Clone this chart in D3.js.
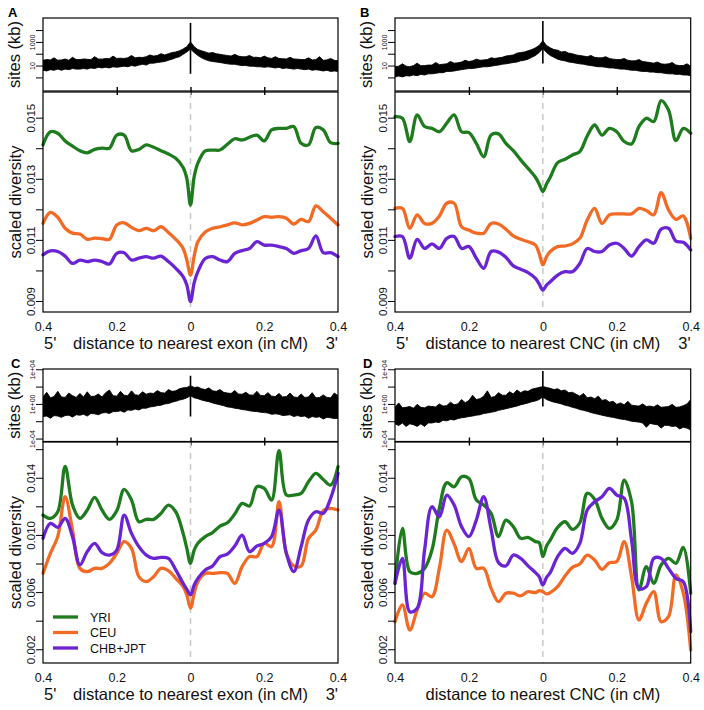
<!DOCTYPE html>
<html>
<head>
<meta charset="utf-8">
<script src="https://cdn.jsdelivr.net/npm/d3@7"></script>
<style>
html,body{margin:0;padding:0;background:#fff;}
svg{display:block;font-family:"Liberation Sans",Arial,Helvetica,sans-serif;}
</style>
</head>
<body>
<svg id="chart" width="704" height="710"></svg>
<script>
// ---------------- DATA ----------------
const divX = [-0.40,-0.38,-0.36,-0.34,-0.32,-0.30,-0.28,-0.26,-0.24,-0.22,-0.20,-0.18,-0.16,-0.14,-0.12,-0.10,-0.08,-0.06,-0.04,-0.02,-0.01,0,0.01,0.02,0.04,0.06,0.08,0.10,0.12,0.14,0.16,0.18,0.20,0.22,0.24,0.26,0.28,0.30,0.32,0.34,0.36,0.38,0.40];

const aYRI = [0.01411,0.01454,0.01449,0.01424,0.01407,0.01392,0.01385,0.01396,0.01400,0.01400,0.01443,0.01443,0.01392,0.01396,0.01411,0.01403,0.01392,0.01381,0.01367,0.01337,0.01301,0.01214,0.01307,0.01351,0.01391,0.01394,0.01394,0.01413,0.01431,0.01427,0.01436,0.01443,0.01424,0.01460,0.01465,0.01465,0.01471,0.01416,0.01411,0.01468,0.01460,0.01418,0.01416];
const aCEU = [0.01154,0.01190,0.01174,0.01138,0.01122,0.01119,0.01102,0.01106,0.01104,0.01102,0.01149,0.01156,0.01141,0.01130,0.01138,0.01130,0.01143,0.01124,0.01102,0.01072,0.01034,0.00985,0.01047,0.01094,0.01126,0.01138,0.01143,0.01149,0.01156,0.01149,0.01154,0.01165,0.01176,0.01174,0.01176,0.01171,0.01152,0.01167,0.01160,0.01211,0.01192,0.01171,0.01149];
const aCHB = [0.01051,0.01064,0.01062,0.01047,0.01023,0.01034,0.01029,0.01034,0.01029,0.01021,0.01056,0.01058,0.01034,0.01040,0.01045,0.01040,0.01047,0.01029,0.01007,0.00980,0.00952,0.00898,0.00960,0.00996,0.01039,0.01045,0.01034,0.01029,0.01056,0.01065,0.01072,0.01094,0.01083,0.01083,0.01078,0.01072,0.01056,0.01065,0.01072,0.01113,0.01058,0.01058,0.01045];

const bYRI = [0.01503,0.01498,0.01422,0.01509,0.01471,0.01465,0.01454,0.01482,0.01509,0.01454,0.01451,0.01416,0.01372,0.01443,0.01447,0.01416,0.01392,0.01362,0.01334,0.01305,0.01283,0.01258,0.01283,0.01305,0.01353,0.01364,0.01378,0.01389,0.01440,0.01476,0.01443,0.01465,0.01454,0.01422,0.01414,0.01471,0.01498,0.01487,0.01556,0.01525,0.01425,0.01465,0.01449];
const bCEU = [0.01203,0.01203,0.01138,0.01182,0.01154,0.01154,0.01178,0.01220,0.01220,0.01143,0.01132,0.01122,0.01122,0.01154,0.01152,0.01135,0.01113,0.01102,0.01094,0.01083,0.01056,0.01018,0.01045,0.01062,0.01078,0.01080,0.01087,0.01105,0.01165,0.01203,0.01154,0.01182,0.01185,0.01185,0.01185,0.01203,0.01196,0.01182,0.01255,0.01198,0.01167,0.01178,0.01105];
const bCHB = [0.01111,0.01111,0.01040,0.01102,0.01072,0.01087,0.01072,0.01105,0.01111,0.01072,0.01078,0.01040,0.01007,0.01062,0.01060,0.01043,0.01015,0.01004,0.00993,0.00974,0.00956,0.00936,0.00952,0.00963,0.00985,0.00996,0.00996,0.01023,0.01072,0.01062,0.01062,0.01083,0.01089,0.01072,0.01047,0.01078,0.01100,0.01089,0.01135,0.01138,0.01096,0.01092,0.01067];

const cYRI = [0.01139,0.01116,0.01162,0.01480,0.01209,0.01116,0.01174,0.01263,0.01174,0.01109,0.01169,0.01318,0.01244,0.01092,0.01109,0.01109,0.01151,0.01209,0.01162,0.01011,0.00906,0.00801,0.00894,0.00941,0.00988,0.01016,0.01062,0.01085,0.01146,0.01221,0.01202,0.01337,0.01325,0.01244,0.01590,0.01279,0.01279,0.01291,0.01372,0.01430,0.01388,0.01349,0.01477];
const cCEU = [0.00731,0.00871,0.00988,0.01267,0.01034,0.00766,0.00743,0.00766,0.00766,0.00801,0.00871,0.00953,0.00906,0.00708,0.00673,0.00708,0.00766,0.00750,0.00696,0.00638,0.00580,0.00487,0.00592,0.00673,0.00731,0.00731,0.00736,0.00731,0.00661,0.00778,0.00848,0.00848,0.00941,0.00918,0.01232,0.00871,0.00783,0.00783,0.00976,0.01034,0.01169,0.01186,0.01174];
const cCHB = [0.00976,0.01081,0.01053,0.01116,0.00988,0.00790,0.00883,0.00941,0.00876,0.00859,0.00894,0.01139,0.01011,0.00918,0.00859,0.00836,0.00843,0.00836,0.00755,0.00661,0.00619,0.00580,0.00650,0.00696,0.00755,0.00783,0.00848,0.00866,0.00922,0.00999,0.00883,0.00922,0.00941,0.00988,0.01174,0.00871,0.00743,0.00918,0.01104,0.01162,0.01151,0.01256,0.01430];

const dYRI = [0.00661,0.01046,0.00743,0.00731,0.00766,0.00894,0.01186,0.01365,0.01337,0.01407,0.01395,0.01244,0.01209,0.01151,0.00988,0.01104,0.01058,0.00976,0.00983,0.00953,0.00946,0.00848,0.00922,0.00964,0.01053,0.01092,0.01039,0.01085,0.01291,0.01249,0.01116,0.01046,0.01104,0.01384,0.01232,0.00615,0.00778,0.00661,0.00790,0.00836,0.00801,0.00913,0.00592];
const dCEU = [0.00393,0.00510,0.00335,0.00475,0.00592,0.00568,0.00766,0.01034,0.00936,0.00813,0.00906,0.00766,0.00766,0.00626,0.00533,0.00592,0.00592,0.00573,0.00603,0.00596,0.00610,0.00603,0.00587,0.00596,0.00638,0.00713,0.00773,0.00797,0.00859,0.00825,0.00759,0.00806,0.00813,0.00953,0.00708,0.00405,0.00522,0.00603,0.00393,0.00428,0.00720,0.00592,0.00195];
const dCHB = [0.00661,0.00836,0.00463,0.00487,0.00894,0.01197,0.01127,0.01279,0.01209,0.01058,0.00988,0.01104,0.01267,0.01039,0.00806,0.00783,0.00859,0.00836,0.00783,0.00736,0.00708,0.00650,0.00703,0.00736,0.00848,0.00906,0.00871,0.00941,0.01174,0.01232,0.01267,0.01325,0.01279,0.01256,0.00964,0.00626,0.00638,0.00836,0.00836,0.00766,0.00696,0.00673,0.00324];

// sites (kb) histogram envelopes
const siteX = [-0.40,-0.39,-0.38,-0.37,-0.36,-0.35,-0.34,-0.33,-0.32,-0.31,-0.30,-0.29,-0.28,-0.27,-0.26,-0.25,-0.24,-0.23,-0.22,-0.21,-0.20,-0.19,-0.18,-0.17,-0.16,-0.15,-0.14,-0.13,-0.12,-0.11,-0.10,-0.09,-0.08,-0.07,-0.06,-0.05,-0.04,-0.03,-0.02,-0.01,0,0.01,0.02,0.03,0.04,0.05,0.06,0.07,0.08,0.09,0.10,0.11,0.12,0.13,0.14,0.15,0.16,0.17,0.18,0.19,0.20,0.21,0.22,0.23,0.24,0.25,0.26,0.27,0.28,0.29,0.30,0.31,0.32,0.33,0.34,0.35,0.36,0.37,0.38,0.39,0.40];

const aHi = [28,32,30,45,28,30,36,28,50,32, 32,36,34,32,56,36,35,40,38,63, 40,42,40,45,71,45,50,48,56,79, 63,71,100,79,100,126,141,178,251,398, 1000, 398,224,178,141,112,126,100,89,79,71, 63,89,63,56,56,71,50,50,45,63, 45,40,56,40,38,36,50,36,35,32, 32,45,30,32,56,28,30,40,28,25];
const aLo = [4.0,3.5,4.5,4.0,5.0,4.0,5.0,4.5,5.6,5.0, 5.0,5.6,5.0,6.3,5.6,7.1,6.3,7.1,6.3,7.9, 7.1,7.9,8.9,7.9,10,8.9,11,13,11,16, 16,18,20,22,28,35,45,56,89,141, 251, 126,71,45,32,25,22,20,18,16,14, 13,13,11,10,10,8.9,8.9,7.9,7.9,7.1, 7.9,7.1,6.3,7.1,5.6,6.3,5.6,5.0,5.6,5.0, 4.5,5.0,4.0,4.5,4.0,3.5,4.0,3.2,3.5,3.2];
const aSpike = [2, 40000];

const bHi = [7.9,8.9,14,8.9,8.0,10,16,9.5,10,11, 11,18,12,13,14,22,16,17,20,28, 22,25,35,28,30,32,45,40,45,50, 63,71,79,112,126,141,178,224,316,501, 1260, 501,316,224,200,141,158,112,100,79,71, 63,56,71,50,45,45,56,40,35,32, 32,40,28,25,25,32,22,20,18,16, 20,14,13,14,18,11,10,10,14,8.9];
const bLo = [1.1,1.3,1.1,1.4,1.3,1.6,1.4,1.8,1.6,2.0, 2.0,2.2,2.5,2.5,3.2,3.2,3.5,4.0,4.5,5.0, 5.6,5.6,6.3,7.1,7.9,7.9,8.9,10,11,13, 14,16,18,20,25,28,35,50,71,126, 282, 126,71,50,35,28,25,20,18,16,14, 13,11,10,8.9,7.9,7.9,7.1,6.3,6.3,5.6, 5.0,5.0,4.5,4.0,4.0,3.5,3.2,3.2,2.8,2.8, 2.5,2.5,2.2,2.0,2.0,1.8,1.8,1.6,1.6,1.4];
const bSpike = [15, 59000];

const cHi = [6.3,22,5.0,7.1,28,6.3,5.6,18,8.9,5.6, 16,6.3,25,7.1,7.9,14,6.3,20,40,8.9, 7.9,28,10,8.9,32,11,10,25,13,18, 16,35,20,18,45,28,32,56,71,79, 126, 79,89,56,45,71,32,28,45,22,18, 16,35,14,13,22,11,10,28,9.5,8.9, 20,7.9,7.1,16,6.3,7.1,18,6.3,5.6,14, 5.6,6.3,20,5.0,5.6,11,5.6,5.0,18,8.9];
const cLo = [0.035,0.040,0.022,0.045,0.040,0.028,0.045,0.050,0.030,0.056, 0.050,0.063,0.040,0.079,0.071,0.056,0.089,0.10,0.079,0.13, 0.13,0.16,0.11,0.20,0.18,0.25,0.20,0.32,0.32,0.45, 0.50,0.63,0.71,1.0,1.1,1.6,2.0,2.8,3.5,5.0, 8.9, 5.0,4.0,2.8,2.2,1.8,1.3,1.0,0.79,0.63,0.45, 0.40,0.32,0.28,0.22,0.20,0.16,0.14,0.13,0.11,0.10, 0.089,0.063,0.071,0.063,0.045,0.050,0.056,0.035,0.045,0.035, 0.040,0.022,0.035,0.028,0.032,0.018,0.028,0.025,0.020,0.022];
const cSpike = [0.035, 1800];

const dHi = [0.40,1.3,0.35,0.40,0.50,0.32,0.89,0.40,0.35,0.56, 0.50,0.45,1.0,0.56,0.63,1.6,0.79,1.0,3.2,1.4, 2.5,10,3.2,4.0,7.9,32,5.6,7.1,20,10, 10,25,14,40,20,32,28,50,63,79, 100, 79,63,45,56,32,40,20,22,13,7.9, 16,5.0,6.3,4.0,7.9,2.5,3.2,1.6,2.0,0.89, 1.3,0.79,2.0,0.71,0.63,0.56,1.0,0.50,0.56,0.45, 0.79,0.40,0.45,0.50,0.89,0.40,0.45,0.63,1.0,3.2];
const dLo = [0.0050,0.0032,0.0063,0.0025,0.0050,0.0040,0.0025,0.0050,0.0025,0.0063, 0.0063,0.0079,0.0071,0.013,0.011,0.016,0.014,0.020,0.025,0.028, 0.035,0.040,0.050,0.056,0.079,0.089,0.11,0.13,0.18,0.22, 0.28,0.35,0.45,0.56,0.79,1.0,1.3,1.8,2.2,3.2, 6.3, 3.2,2.2,1.6,1.3,1.0,0.71,0.56,0.40,0.32,0.22, 0.18,0.14,0.10,0.079,0.063,0.050,0.040,0.032,0.028,0.022, 0.018,0.016,0.013,0.010,0.0089,0.0079,0.0063,0.0020,0.0056,0.0045, 0.0040,0.0016,0.0035,0.0032,0.0025,0.0028,0.0013,0.0020,0.0016,0.0010];
const dSpike = [0.5, 6300];

// tick values and labels
const xTickVals = [-0.4,-0.2,0,0.2,0.4];
const xTickLabels = ["0.4","0.2","0","0.2","0.4"];
const sitesTicksRow1 = [1,10,100,1000,10000];
const sitesLabelsRow1 = ["","10","","1000",""];
const sitesTicksRow2 = [1e-4,1e-2,1,1e2,1e4];
const sitesLabelsRow2 = ["1e-04","","1e+00","","1e+04"];
const divTicksRow1 = [0.009,0.010,0.011,0.012,0.013,0.014,0.015];
const divLabelsRow1 = ["0.009","","0.011","","0.013","","0.015"];
const divTicksRow2 = [0.002,0.004,0.006,0.008,0.010,0.012,0.014,0.016];
const divLabelsRow2 = ["0.002","","0.006","","0.010","","0.014",""];
const seriesNames = ["YRI","CEU","CHB+JPT"];
const seriesColors = ["#1e7b1e","#f26a24","#6a24d4"];

// ---------------- DRAWING ----------------
const svg = d3.select("#chart");
const FONT = '"Liberation Sans",Arial,Helvetica,sans-serif';

const rows = [
  {topY0:18, topY1:91, lowY0:92, lowY1:312, siteDom:[0.0708,104700], divDom:[0.00864,0.01584],
   sTicks:sitesTicksRow1, sLabels:sitesLabelsRow1, dTicks:divTicksRow1, dLabels:divLabelsRow1},
  {topY0:369, topY1:441.5, lowY0:442, lowY1:663, siteDom:[4.57e-5,10715], divDom:[0.00104,0.0165],
   sTicks:sitesTicksRow2, sLabels:sitesLabelsRow2, dTicks:divTicksRow2, dLabels:divLabelsRow2}
];

const panels = [
  {letter:"A", col:0, row:0, hi:aHi, lo:aLo, spike:aSpike, series:[aYRI,aCEU,aCHB], title:"distance to nearest exon (in cM)", primes:true, legend:false},
  {letter:"B", col:1, row:0, hi:bHi, lo:bLo, spike:bSpike, series:[bYRI,bCEU,bCHB], title:"distance to nearest CNC (in cM)", primes:true, legend:false},
  {letter:"C", col:0, row:1, hi:cHi, lo:cLo, spike:cSpike, series:[cYRI,cCEU,cCHB], title:"distance to nearest exon (in cM)", primes:true, legend:true},
  {letter:"D", col:1, row:1, hi:dHi, lo:dLo, spike:dSpike, series:[dYRI,dCEU,dCHB], title:"distance to nearest CNC (in cM)", primes:false, legend:false}
];

function styleLeftAxis(sel, fontSize, offset) {
  sel.select(".domain").remove();
  sel.selectAll(".tick line").attr("stroke","#000").attr("stroke-width",1);
  sel.selectAll(".tick text")
    .attr("x",0).attr("y",-offset).attr("dy",0)
    .attr("transform","rotate(-90)")
    .attr("text-anchor","middle")
    .attr("fill","#111")
    .style("font-size",fontSize+"px")
    .style("font-family",FONT);
}

panels.forEach(p => {
  const r = rows[p.row];
  const ox = p.col * 352;
  const left = 43 + ox, right = 338 + ox + (p.col ? 0.7 : 0);
  const g = svg.append("g");

  const x = d3.scaleLinear().domain([-0.4,0.4]).range([left,right]);
  const ys = d3.scaleLog().domain(r.siteDom).range([r.topY1, r.topY0]);
  const yd = d3.scaleLinear().domain(r.divDom).range([r.lowY1, r.lowY0]);

  // ---- top: sites histogram band ----
  const clipId = "clip" + p.letter;
  svg.append("clipPath").attr("id", clipId).append("rect")
    .attr("x", left).attr("y", r.topY0).attr("width", right-left).attr("height", r.topY1 - r.topY0);
  const band = siteX.map((v,i) => ({x:v, hi:p.hi[i], lo:p.lo[i]}));
  const tg = g.append("g").attr("clip-path", `url(#${clipId})`);
  tg.append("path").datum(band)
    .attr("d", d3.area().x(d => x(d.x)).y0(d => ys(d.lo)).y1(d => ys(d.hi)))
    .attr("fill","#000").attr("stroke","#000").attr("stroke-width",0.9).attr("stroke-linejoin","round");
  tg.append("line")
    .attr("x1", x(0)).attr("x2", x(0))
    .attr("y1", ys(p.spike[0])).attr("y2", ys(p.spike[1]))
    .attr("stroke","#000").attr("stroke-width",1.6);

  g.append("rect").attr("x", left).attr("y", r.topY0).attr("width", right-left).attr("height", r.topY1 - r.topY0)
    .attr("fill","none").attr("stroke","#000").attr("stroke-width",1.2);

  const sAxis = g.append("g").attr("transform", `translate(${left},0)`)
    .call(d3.axisLeft(ys).tickValues(r.sTicks).tickSize(7).tickFormat((d,i) => r.sLabels[i]));
  styleLeftAxis(sAxis, 7, 8);

  // ticks on shared border
  const bt = g.append("g").attr("transform", `translate(0,${r.topY1 - 4})`)
    .call(d3.axisBottom(x).tickValues([-0.2,0,0.2]).tickSize(8).tickFormat(""));
  bt.select(".domain").remove();
  bt.selectAll(".tick line").attr("stroke","#000").attr("stroke-width",1.4);

  // ---- bottom: scaled diversity ----
  g.append("line").attr("x1", x(0)).attr("x2", x(0)).attr("y1", r.lowY0).attr("y2", r.lowY1)
    .attr("stroke","#c8c8c8").attr("stroke-width",1.5).attr("stroke-dasharray","6,5");

  const line = d3.line().x((d,i) => x(divX[i])).y(d => yd(d)).curve(d3.curveCatmullRom.alpha(0.5));
  p.series.forEach((s, k) => {
    g.append("path").datum(s).attr("d", line)
      .attr("fill","none").attr("stroke", seriesColors[k]).attr("stroke-width",3.3)
      .attr("stroke-linejoin","round").attr("stroke-linecap","round");
  });

  g.append("rect").attr("x", left).attr("y", r.lowY0).attr("width", right-left).attr("height", r.lowY1 - r.lowY0)
    .attr("fill","none").attr("stroke","#000").attr("stroke-width",1.2);

  const dAxis = g.append("g").attr("transform", `translate(${left},0)`)
    .call(d3.axisLeft(yd).tickValues(r.dTicks).tickSize(7).tickFormat((d,i) => r.dLabels[i]));
  styleLeftAxis(dAxis, 11.5, 8);

  const xa = g.append("g").attr("transform", `translate(0,${r.lowY1})`)
    .call(d3.axisBottom(x).tickValues(xTickVals).tickSize(0).tickPadding(10).tickFormat((d,i) => xTickLabels[i]));
  xa.select(".domain").remove();
  xa.selectAll(".tick text").style("font-size","12.5px").style("font-family",FONT).attr("fill","#111");

  // ---- titles ----
  g.append("text").attr("x", x(0)).attr("y", r.lowY1 + 37).attr("text-anchor","middle")
    .style("font-size","16.5px").attr("fill","#111").text(p.title);
  if (p.primes) {
    g.append("text").attr("x", left + 1).attr("y", r.lowY1 + 37).attr("text-anchor","start")
      .style("font-size","16.5px").attr("fill","#111").text("5'");
    g.append("text").attr("x", right).attr("y", r.lowY1 + 37).attr("text-anchor","end")
      .style("font-size","16.5px").attr("fill","#111").text("3'");
  }
  g.append("text").attr("transform", `translate(${ox + 20},${(r.topY0 + r.topY1)/2}) rotate(-90)`)
    .attr("text-anchor","middle").style("font-size","16.5px").attr("fill","#111").text("sites (kb)");
  g.append("text").attr("transform", `translate(${ox + 21},${(r.lowY0 + r.lowY1)/2}) rotate(-90)`)
    .attr("text-anchor","middle").style("font-size","16.5px").attr("fill","#111").text("scaled diversity");
  g.append("text").attr("x", ox + (p.row ? 11 : 8)).attr("y", r.topY0 - 1.5)
    .style("font-size","13px").style("font-weight","bold").attr("fill","#000").text(p.letter);

  // ---- legend ----
  if (p.legend) {
    seriesNames.forEach((nm, k) => {
      const ly = 617 + k * 15.5;
      g.append("line").attr("x1", left + 10).attr("x2", left + 35).attr("y1", ly).attr("y2", ly)
        .attr("stroke", seriesColors[k]).attr("stroke-width",3.3);
      g.append("text").attr("x", left + 47).attr("y", ly + 4.5)
        .style("font-size","12.5px").attr("fill","#111").text(nm);
    });
  }
});
</script>
</body>
</html>
